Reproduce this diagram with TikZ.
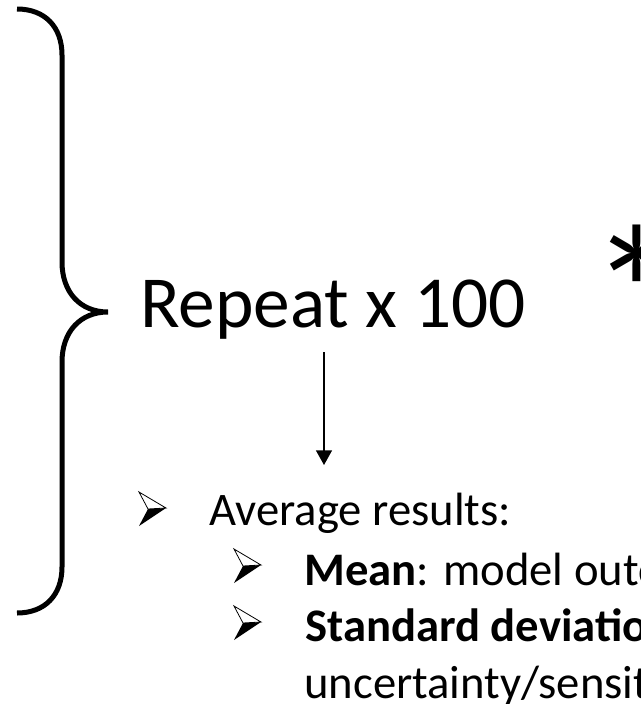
\documentclass[tikz,border=0pt]{standalone}
\usepackage{fontspec}
\setmainfont{Carlito}
\usepackage{tikz}
\usetikzlibrary{arrows.meta,positioning,calc}

\tikzset{
  arrowbullet/.pic = {
    \fill[black] (9,17) -- (27,16) -- (0,34) -- cycle;
    \draw[line width = .6pt, fill = white] (0,0) -- (27,16) -- (9,17) -- cycle;
  }
}

\begin{document}
\begin{tikzpicture}[x = .75pt, y = -.75pt,
    bigtxt/.style = {font = \fontsize{55}{60}\selectfont, anchor = base west, inner sep = 0},
    listtxt/.style = {font = \fontsize{35}{42}\selectfont, anchor = base west, inner sep = 0}]
    \useasboundingbox (0,0) rectangle (641,704);
    \clip (0,0) rectangle (641,704);
    % The brace
    \draw[line width = 3.75pt] (17,9) .. controls (45,9) and (62,27) .. (62,55) -- (62,262)
        .. controls (62,292) and (80,312) .. (108,312)
        .. controls (80,312) and (62,332) .. (62,362) -- (62,567)
        .. controls (62,595) and (45,613) .. (17,613);
    % Main label
    \node[bigtxt] (rep) at (140,327) {Repeat x 100};
    \node[font = \fontsize{140}{150}\selectfont, anchor = base west, inner sep = 0] (star) at (590,357) {*};
    \coordinate (arrtop) at (324,352);
    \coordinate (arrend) at (324,465);
    \draw[line width = 1pt, -{Triangle[width = 12pt, length = 11pt]}] (arrtop) -- (arrend);
    % Results list
    \pic at (139,492) {arrowbullet};
    \node[listtxt] (avg) at (209,525) {Average results:};
    \pic at (234,549) {arrowbullet};
    \node[listtxt] (mean) at (304,585) {\textbf{Mean}: model outcome};
    \pic at (234,606) {arrowbullet};
    \node[listtxt] (sd) at (305,641) {\textbf{Standard deviation}:};
    \node[listtxt] (unc) at (304,698) {uncertainty/sensitivity};
\end{tikzpicture}
\end{document}
